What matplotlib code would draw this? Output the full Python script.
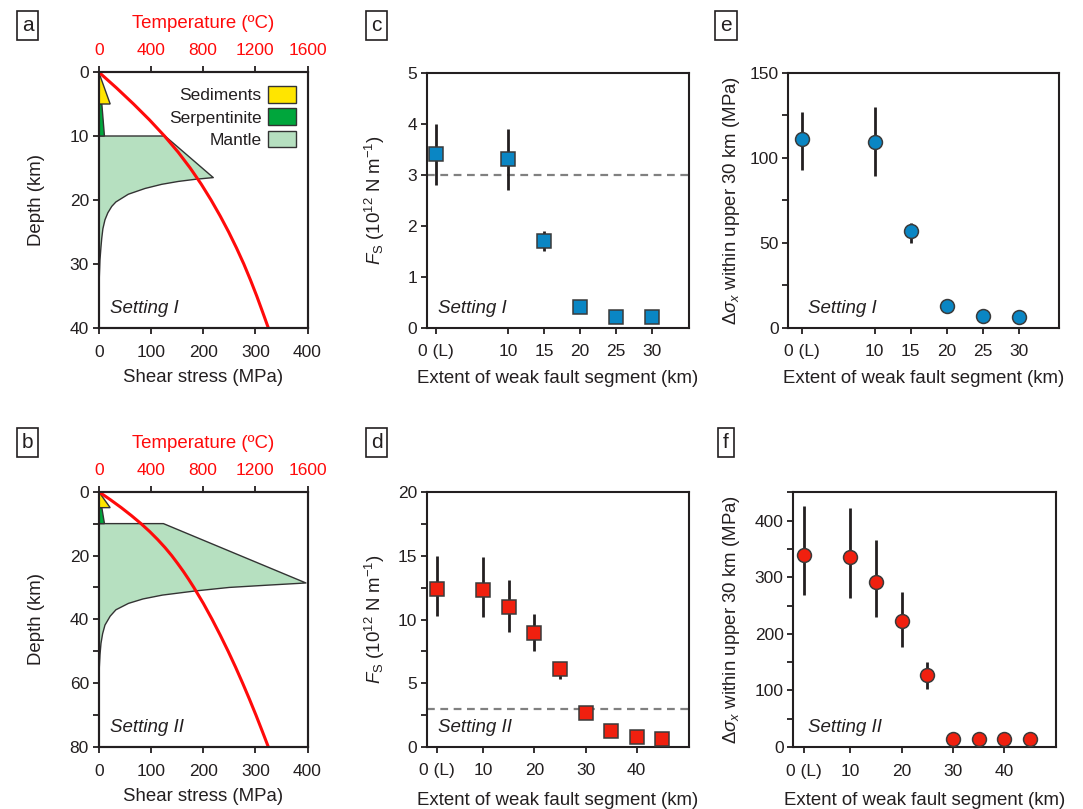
import matplotlib
matplotlib.use("Agg")
import matplotlib.pyplot as plt
from matplotlib.patches import Patch, Polygon
from matplotlib.ticker import MultipleLocator

plt.rcParams['font.family'] = ['Liberation Sans', 'DejaVu Sans']
plt.rcParams['mathtext.fontset'] = 'custom'
plt.rcParams['mathtext.rm'] = 'Liberation Sans'
plt.rcParams['mathtext.it'] = 'Liberation Sans:italic'
plt.rcParams['font.size'] = 12.5

INK = '#231F20'
RED = '#FF0A0A'
BLUE = '#0A86C4'
PTRED = '#F0200F'

# ---- panel a / b: strength envelopes (shear stress MPa vs depth km) ----
sed_tau = [0, 22, 6, 0]
sed_z = [0, 5, 5, 5]
serp_tau = [0, 6, 11, 0]
serp_z = [5, 5, 10, 10]

mantle_a_tau = [0, 127, 219.5, 184.5, 152.5, 120.7, 88.7, 56.7, 33, 25, 17.5, 12, 8,
                5.8, 4.4, 2.4, 1.2, 0.6, 0.2, 0]
mantle_a_z = [10, 10, 16.5, 16.77, 17.1, 17.55, 18.2, 19.1, 20.3, 21.0, 22.0, 23.1, 24.5,
              26.0, 27.3, 29.4, 32, 35, 38, 40]
temp_a_z = [0, 2.5, 5, 7.5, 10, 12.5, 15, 17.5, 20, 22.5, 25, 27.5, 30, 32.5, 35, 37.5, 40]
temp_a_T = [0, 137, 267, 390, 504, 608, 701, 785, 861, 931, 996, 1056, 1112, 1163,
            1211, 1256, 1300]

mantle_b_tau = [0, 124, 397, 322, 250, 185, 122, 85, 57, 33, 22, 12, 7.5, 4.4, 2.5,
                1.2, 0.5, 0.1, 0]
mantle_b_z = [10, 10, 28.6, 29.3, 30.0, 31.1, 32.4, 33.6, 35.0, 37.0, 39.0, 41.8, 44.5,
              47.5, 51, 55, 60, 70, 80]
temp_b_z = [0, 2.5, 5, 7.5, 10, 12.5, 15, 17.5, 20, 22.5, 25, 27.5, 30, 35, 40, 45, 50,
            55, 60, 65, 70, 75, 80]
temp_b_T = [0, 89, 173, 251, 324, 391, 452, 508, 559, 605, 649, 690, 729, 802, 869, 932,
            992, 1049, 1103, 1155, 1205, 1253, 1300]

# ---- panels c-f: results vs extent of weak fault segment ----
c_ticks = [0, 10, 15, 20, 25, 30]
c_labels = ['0 (L)', '10', '15', '20', '25', '30']
fs1 = [3.4, 3.3, 1.7, 0.4, 0.2, 0.2]
fs1_lo = [2.8, 2.7, 1.5, 0.4, 0.2, 0.2]
fs1_hi = [4.0, 3.9, 1.9, 0.4, 0.2, 0.2]
ds1 = [111, 109, 57, 13, 7, 6]
ds1_lo = [93, 89, 49.6, 13, 7, 6]
ds1_hi = [127, 130, 61.4, 13, 7, 6]

d_pos = [1, 10, 15, 20, 25, 30, 35, 40, 45]
d_ticks = [1, 10, 20, 30, 40]
d_labels = ['0 (L)', '10', '20', '30', '40']
fs2 = [12.4, 12.3, 11.0, 8.9, 6.1, 2.65, 1.25, 0.8, 0.6]
fs2_lo = [10.3, 10.2, 9.05, 7.55, 5.3, 2.65, 1.25, 0.8, 0.6]
fs2_hi = [15.0, 14.9, 13.1, 10.4, 6.65, 2.65, 1.25, 0.8, 0.6]
ds2 = [339, 336, 291, 222, 127, 14, 14, 14, 14]
ds2_lo = [268, 264, 230, 177, 103, 14, 14, 14, 14]
ds2_hi = [426, 423, 365, 274, 150, 14, 14, 14, 14]

W, H = 1083, 809
fig = plt.figure(figsize=(W / 100, H / 100), dpi=100)


def box(l, t, r, b):
    return [l / W, 1 - b / H, (r - l) / W, (b - t) / H]


def style(ax):
    for s in ax.spines.values():
        s.set_linewidth(1.5)
        s.set_color(INK)
    ax.tick_params(direction='out', length=4, width=1.3, colors=INK,
                   labelcolor=INK, labelsize=12.5)
    ax.tick_params(axis='x', pad=8)
    ax.tick_params(axis='y', pad=3)
    ax.tick_params(which='minor', direction='out', length=4, width=1.3, colors=INK)


def strength(ax, mt, mz, tz, tT, zmax, major, minor, label):
    style(ax)
    ax.add_patch(Polygon(list(zip(mt, mz)), closed=True, fc='#B6E0C0', ec='#333333',
                         lw=1, joinstyle='round'))
    ax.add_patch(Polygon(list(zip(serp_tau, serp_z)), closed=True, fc='#00A63C', ec='#333333', lw=1))
    ax.add_patch(Polygon(list(zip(sed_tau, sed_z)), closed=True, fc='#FFE500', ec='#333333', lw=1))
    ax.set_xlim(0, 400)
    ax.set_ylim(zmax, 0)
    ax.set_xticks([0, 100, 200, 300, 400])
    ax.yaxis.set_major_locator(MultipleLocator(major))
    if minor:
        ax.yaxis.set_minor_locator(MultipleLocator(minor))
    ax.set_xlabel('Shear stress (MPa)', color=INK, fontsize=13.4)
    ax.set_ylabel('Depth (km)', color=INK, fontsize=13.4)
    ax.xaxis.set_label_coords(0.5, -0.16)
    ax.yaxis.set_label_coords(-0.255, 0.5)
    ax.text(0.054, 0.077, label, transform=ax.transAxes, style='italic',
            fontsize=13.5, color=INK, va='center')
    tw = ax.twiny()
    style(tw)
    tw.plot(tT, tz, color=RED, lw=2.2, solid_joinstyle='round')
    tw.set_xlim(0, 1600)
    tw.set_ylim(zmax, 0)
    tw.set_xticks([0, 400, 800, 1200, 1600])
    tw.tick_params(axis='x', labelcolor=RED, pad=6)
    tw.set_xlabel('Temperature (ºC)', color=RED, fontsize=13.4)
    tw.xaxis.set_label_coords(0.5, 1.17)
    return tw


ax_a = fig.add_axes(box(98.7, 72, 307.5, 328))
strength(ax_a, mantle_a_tau, mantle_a_z, temp_a_z, temp_a_T, 40, 10, None, 'Setting I')
handles = [Patch(fc='#FFE500', ec='#333333', label='Sediments'),
           Patch(fc='#00A63C', ec='#333333', label='Serpentinite'),
           Patch(fc='#B6E0C0', ec='#333333', label='Mantle')]
ax_a.legend(handles=handles, loc='upper right', markerfirst=False, frameon=False,
            fontsize=12.5, handlelength=1.6, handleheight=1.1, handletextpad=0.4,
            labelspacing=0.3, borderaxespad=0.25, labelcolor=INK,
            bbox_to_anchor=(1.0, 0.99))

ax_b = fig.add_axes(box(98.7, 491.7, 307.5, 747))
strength(ax_b, mantle_b_tau, mantle_b_z, temp_b_z, temp_b_T, 80, 20, 10, 'Setting II')


def results(ax, x, y, lo, hi, marker, color, ticks, labels, xlim, ylim, major, minor,
            ylabel, label, ylx, xly, tx, dashed=False):
    style(ax)
    if dashed:
        ax.axhline(3, color='#808080', lw=1.6, ls=(0, (3.5, 2.5)), zorder=1)
    ax.vlines(x, lo, hi, color=INK, lw=2, zorder=2)
    ax.plot(x, y, ls='none', marker=marker, ms=10, mfc=color, mec='#3A3A3A',
            mew=1.1, zorder=3)
    ax.set_xlim(*xlim)
    ax.set_ylim(*ylim)
    ax.set_xticks(ticks)
    ax.set_xticklabels(labels)
    ax.yaxis.set_major_locator(MultipleLocator(major))
    ax.yaxis.set_minor_locator(MultipleLocator(minor))
    ax.set_xlabel('Extent of weak fault segment (km)', color=INK, fontsize=13.4)
    ax.set_ylabel(ylabel, color=INK, fontsize=13.4)
    ax.xaxis.set_label_coords(0.5, xly)
    ax.yaxis.set_label_coords(ylx, 0.5)
    ax.text(tx, 0.076, label, transform=ax.transAxes, style='italic', fontsize=13.5,
            color=INK, va='center')


fs_label = r'$F_{\mathrm{S}}$ (10$^{12}$ N m$^{-1}$)'
ds_label = r'$\Delta\sigma_x$ within upper 30 km (MPa)'

ax_c = fig.add_axes(box(426.7, 72.7, 689, 327.7))
results(ax_c, c_ticks, fs1, fs1_lo, fs1_hi, 's', BLUE, c_ticks, c_labels,
        (-1.3, 35.1), (0, 5), 1, 1, fs_label, 'Setting I', -0.15, -0.165, 0.042, dashed=True)
ax_d = fig.add_axes(box(426.7, 492.3, 689, 746.7))
results(ax_d, d_pos, fs2, fs2_lo, fs2_hi, 's', PTRED, d_ticks, d_labels,
        (-1.0, 50.2), (0, 20), 5, 2.5, fs_label, 'Setting II', -0.15, -0.18, 0.042, dashed=True)
ax_e = fig.add_axes(box(788.3, 72.7, 1059.3, 327.7))
results(ax_e, c_ticks, ds1, ds1_lo, ds1_hi, 'o', BLUE, c_ticks, c_labels,
        (-1.9, 35.5), (0, 150), 50, 25, ds_label, 'Setting I', -0.17, -0.165, 0.074)
ax_f = fig.add_axes(box(793.3, 492.3, 1055.7, 747))
results(ax_f, d_pos, ds2, ds2_lo, ds2_hi, 'o', PTRED, d_ticks, d_labels,
        (-1.1, 50.0), (0, 450), 100, 50, ds_label, 'Setting II', -0.195, -0.175, 0.057)

# panel letters
for letter, (px, py) in zip('abcdef', [(27.5, 25.5), (27.5, 443), (376.5, 25.5),
                                       (376.5, 443), (726, 25.5), (726, 443)]):
    fig.text(px / W, 1 - py / H, letter, ha='center', va='center', fontsize=15, color=INK,
             bbox=dict(boxstyle='square,pad=0.24', fc='white', ec=INK, lw=1.2))

fig.savefig('out.png', dpi=100)
